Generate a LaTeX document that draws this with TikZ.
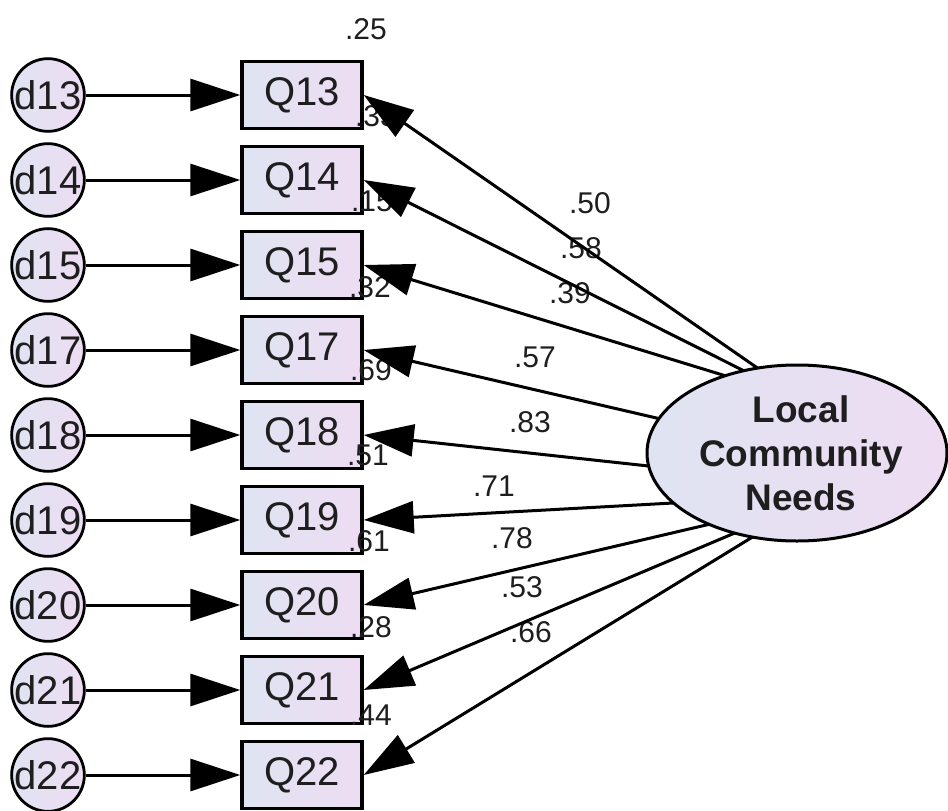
\documentclass[tikz,border=0pt]{standalone}
\usepackage{fontspec}
\setmainfont{Liberation Sans}
\usetikzlibrary{arrows.meta,shapes.geometric}
\definecolor{fillL}{HTML}{DFE4F2}
\definecolor{fillR}{HTML}{EEDCF2}
\definecolor{ink}{HTML}{1E1E1E}

\begin{document}
\begin{tikzpicture}[x=1pt,y=-1pt,
  every node/.style={text=ink},
  item/.style={draw=black, line width=3.4pt, minimum width=120pt, minimum height=67pt,
    inner sep=0pt, left color=fillL, right color=fillR, font=\fontsize{40}{42}\selectfont},
  err/.style={circle, draw=black, line width=2.8pt, minimum size=67pt, inner sep=0pt,
    left color=fillL, right color=fillR, font=\fontsize{40}{42}\selectfont},
  coef/.style={font=\fontsize{30}{32}\selectfont, inner sep=0pt},
  arr/.style={line width=3pt, -{Triangle[length=50pt,width=32pt]}}]

% canvas
\fill[white] (0,0) rectangle (948,811);
\useasboundingbox (0,0) rectangle (948,811);

% latent factor
\shade[left color=fillL, right color=fillR, draw=black, line width=3pt]
  (797,453) ellipse [x radius=150, y radius=88];
\node[ellipse, minimum width=300pt, minimum height=176pt, inner sep=0pt] (L) at (797,453) {};
\node[font=\bfseries\fontsize{37}{44}\selectfont, align=center, inner sep=0pt] (Ltxt) at (801,453)
  {Local\\Community\\Needs};

% indicators and their error terms
\foreach \q/\yy in {13/95,14/180,15/265,17/350,18/435,19/520,20/605,21/690,22/775}{
  \node[item] (q\q) at (302,\yy) {Q\q};
  \node[err] (d\q) at (48,\yy) {d\q};
}

% squared multiple correlations
\node[coef] (r13) at (366,29) {.25};
\node[coef] (r14) at (376,116) {.33};
\node[coef] (r15) at (372,201) {.15};
\node[coef] (r17) at (370,287) {.32};
\node[coef] (r18) at (371,370) {.69};
\node[coef] (r19) at (368,455) {.51};
\node[coef] (r20) at (369,541) {.61};
\node[coef] (r21) at (371,627) {.28};
\node[coef] (r22) at (371,715) {.44};

% standardized loadings
\node[coef] (w13) at (590,203) {.50};
\node[coef] (w14) at (581,248) {.58};
\node[coef] (w15) at (570,293) {.39};
\node[coef] (w17) at (535,357) {.57};
\node[coef] (w18) at (530,422) {.83};
\node[coef] (w19) at (494,486) {.71};
\node[coef] (w20) at (512,538) {.78};
\node[coef] (w21) at (522,587) {.53};
\node[coef] (w22) at (531,632) {.66};

% error paths
\foreach \q in {13,14,15,17,18,19,20,21,22}{
  \draw[arr] (d\q) -- (q\q.west);
}

% factor loadings
\foreach \q/\a in {13/115,14/123,15/133,17/166,18/185,19/202,20/219,21/232,22/242}{
  \draw[arr] (L.\a) -- (q\q.east);
}
\end{tikzpicture}
\end{document}
